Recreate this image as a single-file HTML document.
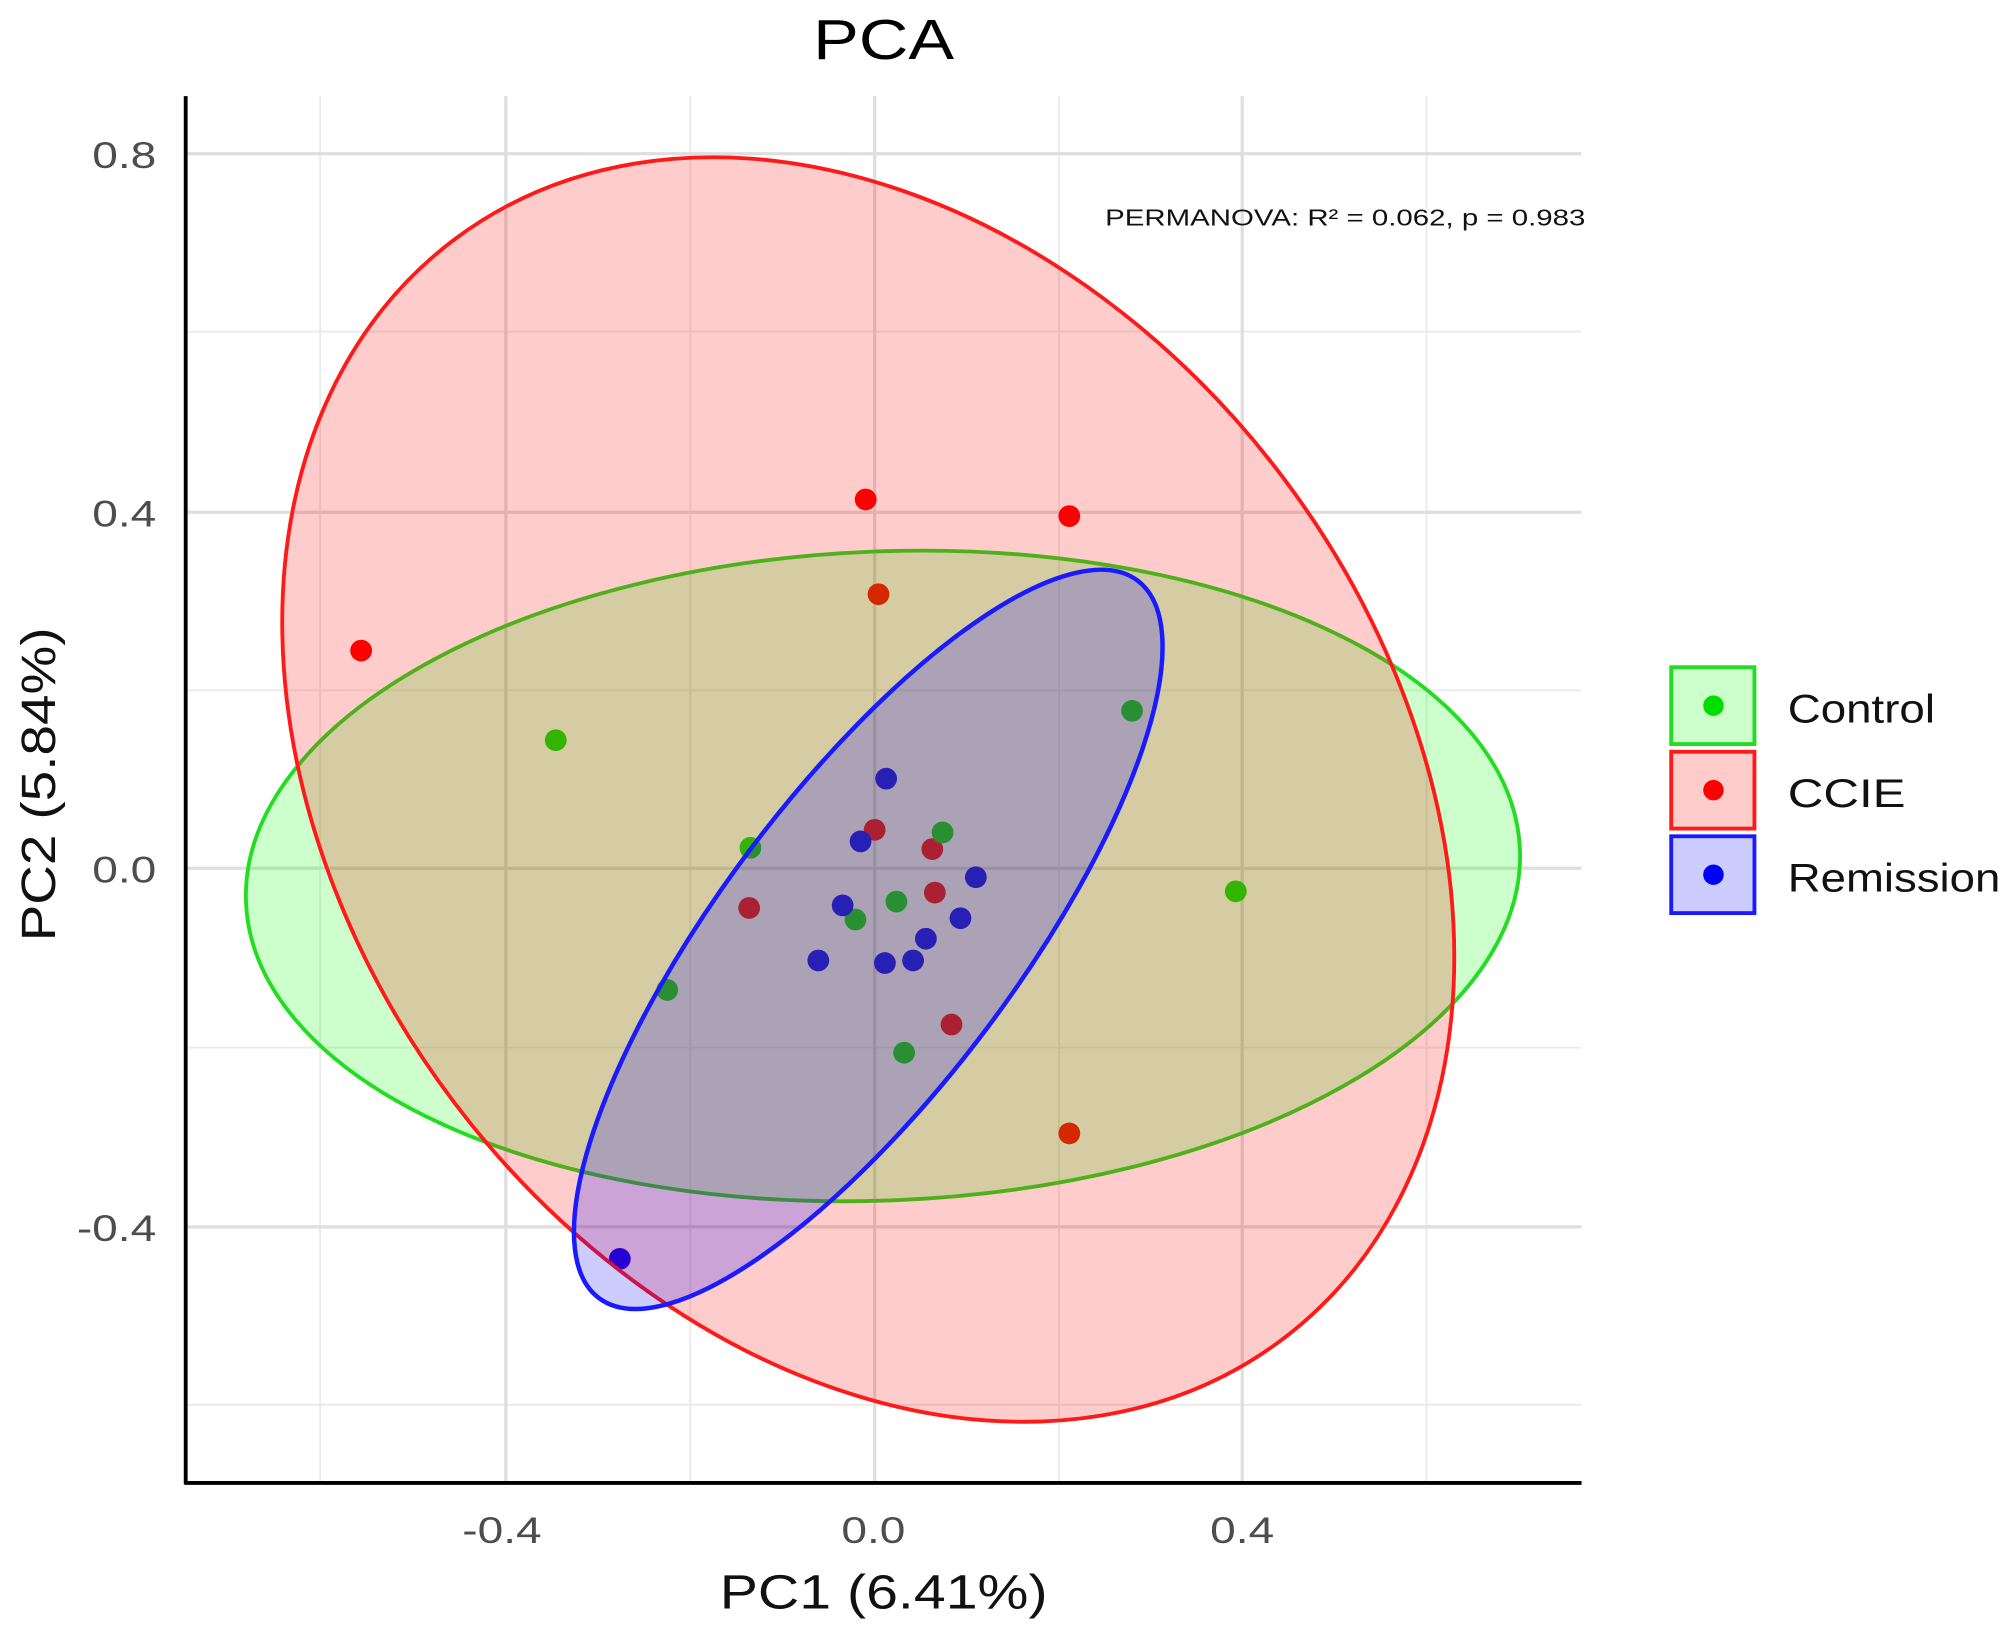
<!DOCTYPE html>
<html><head><meta charset="utf-8"><style>html,body{margin:0;padding:0;background:#fff}svg{display:block}</style></head>
<body>
<svg width="2008" height="1629" viewBox="0 0 1568 1272" xmlns="http://www.w3.org/2000/svg" font-family="Liberation Sans, sans-serif">
<rect width="1568" height="1272" fill="#fff"/>
<g stroke="#ebebeb" stroke-width="1.5">
<line x1="250" y1="75" x2="250" y2="1158"/><line x1="539" y1="75" x2="539" y2="1158"/><line x1="827" y1="75" x2="827" y2="1158"/><line x1="1114" y1="75" x2="1114" y2="1158"/>
<line x1="145" y1="259" x2="1235" y2="259"/><line x1="145" y1="539" x2="1235" y2="539"/><line x1="145" y1="818" x2="1235" y2="818"/><line x1="145" y1="1097" x2="1235" y2="1097"/>
</g>
<g stroke="#dedede" stroke-width="2.5">
<line x1="395" y1="75" x2="395" y2="1158"/><line x1="683" y1="75" x2="683" y2="1158"/><line x1="970" y1="75" x2="970" y2="1158"/>
<line x1="145" y1="120" x2="1235" y2="120"/><line x1="145" y1="400" x2="1235" y2="400"/><line x1="145" y1="678" x2="1235" y2="678"/><line x1="145" y1="958" x2="1235" y2="958"/>
</g>
<g fill="#ff0000"><circle cx="676" cy="390" r="8.5"/><circle cx="835" cy="403" r="8.5"/><circle cx="686" cy="464" r="8.5"/><circle cx="282" cy="508" r="8.5"/><circle cx="683" cy="648" r="8.5"/><circle cx="728" cy="663" r="8.5"/><circle cx="585" cy="709" r="8.5"/><circle cx="730" cy="697" r="8.5"/><circle cx="743" cy="800" r="8.5"/><circle cx="835" cy="885" r="8.5"/></g>
<g fill="#00dd00"><circle cx="434" cy="578" r="8.5"/><circle cx="884" cy="555" r="8.5"/><circle cx="586" cy="662" r="8.5"/><circle cx="736" cy="650" r="8.5"/><circle cx="700" cy="704" r="8.5"/><circle cx="668" cy="718" r="8.5"/><circle cx="965" cy="696" r="8.5"/><circle cx="521" cy="773" r="8.5"/><circle cx="706" cy="822" r="8.5"/></g>
<g fill="#0000ff"><circle cx="692" cy="608" r="8.5"/><circle cx="672" cy="657" r="8.5"/><circle cx="762" cy="685" r="8.5"/><circle cx="658" cy="707" r="8.5"/><circle cx="750" cy="717" r="8.5"/><circle cx="723" cy="733" r="8.5"/><circle cx="639" cy="750" r="8.5"/><circle cx="691" cy="752" r="8.5"/><circle cx="713" cy="750" r="8.5"/><circle cx="484" cy="983" r="8.5"/></g>
<ellipse cx="689.5" cy="684" rx="497.8" ry="253.4" transform="rotate(-2.4 689.5 684)" fill="#00ff00" fill-opacity="0.2" stroke="#22dd22" stroke-width="3"/>
<ellipse cx="678" cy="616.5" rx="537.5" ry="405.3" transform="rotate(53 678 616.5)" fill="#ff0000" fill-opacity="0.2" stroke="#ff1a1a" stroke-width="3"/>
<ellipse cx="678" cy="733.5" rx="350.3" ry="115.8" transform="rotate(-53.1 678 733.5)" fill="#0000ff" fill-opacity="0.2" stroke="#1a1aff" stroke-width="3.5"/>
<line x1="145" y1="75" x2="145" y2="1159" stroke="#000" stroke-width="3"/>
<line x1="144" y1="1158" x2="1235" y2="1158" stroke="#000" stroke-width="3"/>
<g font-size="29" fill="#4d4d4d">
<text x="72" y="131" textLength="50" lengthAdjust="spacingAndGlyphs">0.8</text>
<text x="72" y="411" textLength="50" lengthAdjust="spacingAndGlyphs">0.4</text>
<text x="72" y="689" textLength="50" lengthAdjust="spacingAndGlyphs">0.0</text>
<text x="60" y="969" textLength="62" lengthAdjust="spacingAndGlyphs">-0.4</text>
<text x="361" y="1205" textLength="62" lengthAdjust="spacingAndGlyphs">-0.4</text>
<text x="657" y="1205" textLength="50" lengthAdjust="spacingAndGlyphs">0.0</text>
<text x="945" y="1205" textLength="50" lengthAdjust="spacingAndGlyphs">0.4</text>
</g>
<text x="562" y="1256" font-size="38" fill="#111" textLength="256" lengthAdjust="spacingAndGlyphs">PC1 (6.41%)</text>
<text transform="translate(43 490) rotate(-90)" x="-245" y="0" font-size="38" fill="#111" textLength="245" lengthAdjust="spacingAndGlyphs">PC2 (5.84%)</text>
<text x="635" y="46" font-size="44" fill="#000" textLength="110" lengthAdjust="spacingAndGlyphs">PCA</text>
<text x="863" y="176" font-size="18" fill="#111" textLength="375" lengthAdjust="spacingAndGlyphs">PERMANOVA: R² = 0.062, p = 0.983</text>
<rect x="1305" y="521" width="65" height="60" fill="#ccffcc" stroke="#22dd22" stroke-width="3"/><circle cx="1338" cy="551" r="8" fill="#00dd00"/>
<rect x="1305" y="587" width="65" height="60" fill="#ffcccc" stroke="#ff1a1a" stroke-width="3"/><circle cx="1338" cy="617" r="8" fill="#ff0000"/>
<rect x="1305" y="653" width="65" height="60" fill="#ccccff" stroke="#1a1aff" stroke-width="3"/><circle cx="1338" cy="683" r="8" fill="#0000ff"/>
<g font-size="31" fill="#111">
<text x="1396" y="564" textLength="115" lengthAdjust="spacingAndGlyphs">Control</text>
<text x="1396" y="630" textLength="92" lengthAdjust="spacingAndGlyphs">CCIE</text>
<text x="1396" y="696" textLength="166" lengthAdjust="spacingAndGlyphs">Remission</text>
</g>
</svg>
</body></html>
